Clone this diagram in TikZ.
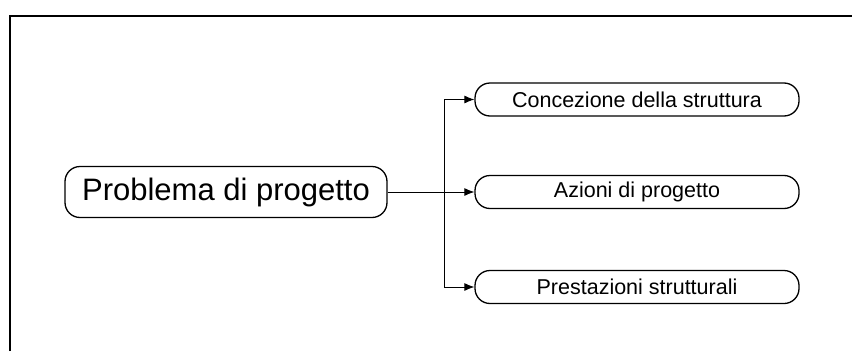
\documentclass[tikz,border=0pt]{standalone}
\usepackage{fontspec}
\setmainfont{Liberation Sans}
\usetikzlibrary{arrows.meta}

\begin{document}
\begin{tikzpicture}[x=1pt,y=-1pt,
    mainbox/.style={draw,line width=1.3pt,rounded corners=15pt,minimum width=322pt,minimum height=51pt,inner sep=0pt,font=\fontsize{31}{36}\selectfont},
    subbox/.style={draw,line width=1.3pt,rounded corners=15pt,minimum width=324pt,minimum height=33pt,inner sep=0pt,font=\fontsize{21.5}{25}\selectfont},
    link/.style={line width=0.9pt,-{Latex[length=10pt,width=8pt]}}]
        \useasboundingbox(0,0)rectangle(852,351);
        \draw[line width=2pt](9.5,351)--(9.5,15.5)--(852,15.5);

        \node[mainbox](prob)at(226,192){Problema di progetto};
        \node[subbox](conc)at(637,99.5){Concezione della struttura};
        \node[subbox](azio)at(637,192){Azioni di progetto};
        \node[subbox](pres)at(637,287){Prestazioni strutturali};

        \coordinate(split)at(444.5,192);
        \draw[line width=0.9pt](prob.east)--(split);
        \draw[link](split)|-(conc.west);
        \draw[link](split)--(azio.west);
        \draw[link](split)|-(pres.west);
    \end{tikzpicture}
\end{document}
